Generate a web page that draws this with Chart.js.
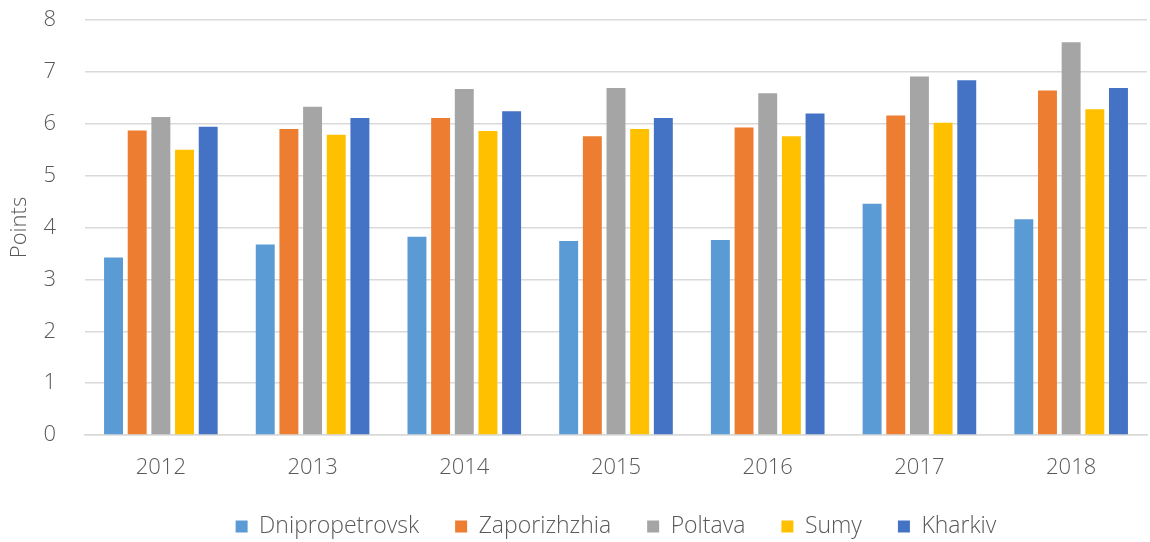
<!DOCTYPE html>
<html>
<head>
<meta charset="utf-8">
<script src="https://cdn.jsdelivr.net/npm/chart.js@4/dist/chart.umd.min.js"></script>
<style>
html,body{margin:0;padding:0;background:#fff;}
#wrap{width:1150px;height:542px;position:relative;}
</style>
</head>
<body>
<div id="wrap"><canvas id="c" width="1150" height="542"></canvas></div>
<script>
const categories = ["2012","2013","2014","2015","2016","2017","2018"];
const dnipropetrovsk = [3.42, 3.67, 3.82, 3.74, 3.76, 4.46, 4.16];
const zaporizhzhia   = [5.87, 5.90, 6.11, 5.76, 5.93, 6.16, 6.64];
const poltava        = [6.13, 6.33, 6.67, 6.69, 6.59, 6.91, 7.57];
const sumy           = [5.50, 5.79, 5.86, 5.90, 5.76, 6.02, 6.28];
const kharkiv        = [5.94, 6.11, 6.24, 6.11, 6.20, 6.84, 6.69];
const yTicks = [0,1,2,3,4,5,6,7,8];

const fontFamily = "'Open Sans', 'Noto Sans', sans-serif";
const textColor = "#595959";
const ds = (label, data, color) => ({label, data, backgroundColor: color, borderWidth: 0});

new Chart(document.getElementById('c'), {
  type: 'bar',
  data: {
    labels: categories,
    datasets: [
      ds("Dnipropetrovsk", dnipropetrovsk, "#5b9bd5"),
      ds("Zaporizhzhia", zaporizhzhia, "#ed7d31"),
      ds("Poltava", poltava, "#a5a5a5"),
      ds("Sumy", sumy, "#ffc000"),
      ds("Kharkiv", kharkiv, "#4472c4")
    ]
  },
  options: {
    responsive: false,
    animation: false,
    datasets: { bar: { categoryPercentage: 0.78, barPercentage: 0.8 } },
    layout: { padding: { top: 0, right: 3, left: 2, bottom: 0 } },
    plugins: {
      legend: {
        position: 'bottom',
        fullSize: false,
        maxHeight: 63,
        labels: {
          boxWidth: 12, boxHeight: 12, padding: 36,
          color: textColor,
          font: { family: fontFamily, size: 23, weight: '300' }
        }
      },
      tooltip: { enabled: false }
    },
    scales: {
      x: {
        grid: { display: false, drawTicks: false },
        border: { color: "#d9d9d9", width: 1.5 },
        afterFit: (axis) => { axis.height = 44; },
        ticks: { color: textColor, padding: 20, font: { family: fontFamily, size: 22, weight: '300' } }
      },
      y: {
        min: 0, max: 8,
        afterBuildTicks: (axis) => { axis.ticks = yTicks.map(v => ({value: v})); },
        afterFit: (axis) => { axis.width = 83; axis.paddingTop = 20; axis.paddingBottom = 10; },
        grid: { color: "#d9d9d9", lineWidth: 1.5, drawTicks: false },
        border: { display: false },
        ticks: { color: textColor, padding: 29, font: { family: fontFamily, size: 22, weight: '300' } },
        title: { display: true, text: "Points", color: textColor, padding: { top: 5, bottom: 0 }, font: { family: fontFamily, size: 22, weight: '300' } }
      }
    }
  }
});
</script>
</body>
</html>
